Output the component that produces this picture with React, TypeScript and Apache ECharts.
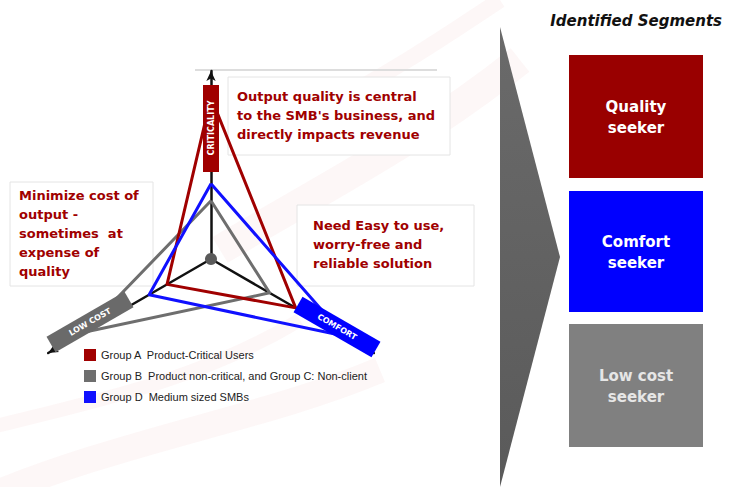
import React, { useEffect, useRef } from "react";
import * as echarts from "echarts";

const indicators = ["CRITICALITY", "LOW COST", "COMFORT"];
const groupNames = [
  "Group A  Product-Critical Users",
  "Group B  Product non-critical, and Group C: Non-client",
  "Group D  Medium sized SMBs",
];
const groupColors = ["#a00000", "#6e6e6e", "#1010ff"];
const groupA = [0.86, 0.27, 0.52];
const groupBC = [0.31, 0.78, 0.36];
const groupD = [0.4, 0.38, 0.82];
const segmentTitle = "Identified Segments";
const segments = ["Quality\nseeker", "Comfort\nseeker", "Low cost\nseeker"];
const segmentColors = ["#990000", "#0000ff", "#808080"];
const notes = [
  "Output quality is central\nto the SMB's business, and\ndirectly impacts revenue",
  "Minimize cost of\noutput -\nsometimes  at\nexpense of\nquality",
  "Need Easy to use,\nworry-free and\nreliable solution",
];

export default function App() {
  const ref = useRef<HTMLDivElement>(null);
  useEffect(() => {
    document.body.style.margin = "0";
    const chart = echarts.init(ref.current!, null, { renderer: "svg" });
    const noteFont = "bold 13px 'DejaVu Sans'";
    const swoosh = (x1: number, y1: number, cx1: number, cy1: number, cx2: number, cy2: number, x2: number, y2: number, w: number) => ({
      type: "bezierCurve", z: -10,
      shape: { x1, y1, cpx1: cx1, cpy1: cy1, cpx2: cx2, cpy2: cy2, x2, y2 },
      style: { stroke: "rgba(215,60,60,0.04)", lineWidth: w, fill: null },
    });
    const graphic: any[] = [
      // faint background swooshes
      swoosh(-20, 500, 120, 440, 260, 420, 380, 370, 26),
      swoosh(-20, 430, 100, 400, 200, 380, 300, 320, 14),
      swoosh(220, 250, 320, 190, 420, 140, 520, 60, 30),
      swoosh(300, 120, 380, 80, 440, 40, 500, 0, 16),
      // top rule
      { type: "line", z: 0, shape: { x1: 195, y1: 70, x2: 437, y2: 70 }, style: { stroke: "#dddddd", lineWidth: 2 } },
      // note boxes
      { type: "rect", z: 0, shape: { x: 228, y: 77, width: 222, height: 78 }, style: { fill: "#fff", stroke: "#e4e4e4", lineWidth: 1 } },
      { type: "text", z: 1, style: { x: 237, y: 87, text: notes[0], font: noteFont, fill: "#a00000", lineHeight: 19, textVerticalAlign: "top" } },
      { type: "rect", z: 0, shape: { x: 10, y: 182, width: 143, height: 104 }, style: { fill: "#fff", stroke: "#e4e4e4", lineWidth: 1 } },
      { type: "text", z: 1, style: { x: 19, y: 186, text: notes[1], font: noteFont, fill: "#a00000", lineHeight: 19, textVerticalAlign: "top" } },
      { type: "rect", z: 0, shape: { x: 297, y: 205, width: 177, height: 81 }, style: { fill: "#fff", stroke: "#e4e4e4", lineWidth: 1 } },
      { type: "text", z: 1, style: { x: 313, y: 216, text: notes[2], font: noteFont, fill: "#a00000", lineHeight: 19, textVerticalAlign: "top" } },
      // axis labels
      { type: "rect", z: 10, shape: { x: 203, y: 85, width: 16, height: 87 }, style: { fill: "#a00000" } },
      { type: "text", z: 11, x: 211, y: 128, rotation: Math.PI / 2, style: { x: 0, y: 0, text: indicators[0], font: "bold 8px 'DejaVu Sans'", fill: "#fff", textAlign: "center", textVerticalAlign: "middle" } },
      {
        type: "group", z: 10, x: 90, y: 322, rotation: Math.PI / 6,
        children: [
          { type: "rect", z: 10, shape: { x: -45, y: -9, width: 90, height: 18 }, style: { fill: "#6a6a6a" } },
          { type: "text", z: 11, style: { x: 0, y: 0, text: indicators[1], font: "bold 8px 'DejaVu Sans'", fill: "#fff", textAlign: "center", textVerticalAlign: "middle" } },
        ],
      },
      {
        type: "group", z: 10, x: 337, y: 327, rotation: -Math.PI / 6,
        children: [
          { type: "rect", z: 10, shape: { x: -45, y: -9, width: 90, height: 18 }, style: { fill: "#0000ff" } },
          { type: "text", z: 11, style: { x: 0, y: 0, text: indicators[2], font: "bold 8px 'DejaVu Sans'", fill: "#fff", textAlign: "center", textVerticalAlign: "middle" } },
        ],
      },
      // center hub
      { type: "circle", z: 12, shape: { cx: 211, cy: 259, r: 6 }, style: { fill: "#5a5a5a" } },
      // right arrow
      {
        type: "polygon", z: 0, shape: { points: [[500, 27], [560, 257], [500, 487]] },
        style: { fill: new echarts.graphic.LinearGradient(0, 0, 0, 1, [{ offset: 0, color: "#6a6a6a" }, { offset: 1, color: "#5a5a5a" }]) },
      },
      { type: "text", z: 1, style: { x: 722, y: 21, text: segmentTitle, font: "italic bold 15px 'DejaVu Sans'", fill: "#111", textAlign: "right", textVerticalAlign: "middle" } },
    ];
    const boxY = [55, 191, 324];
    const boxH = [123, 121, 123];
    segments.forEach((s, i) => {
      graphic.push({ type: "rect", z: 1, shape: { x: 569, y: boxY[i], width: 134, height: boxH[i] }, style: { fill: segmentColors[i] } });
      graphic.push({
        type: "text", z: 2,
        style: { x: 636, y: boxY[i] + boxH[i] / 2 + 1, text: s, font: "bold 15px 'DejaVu Sans'", fill: i === 2 ? "#e6e6e6" : "#ffffff", lineHeight: 21, textAlign: "center", textVerticalAlign: "middle" },
      });
    });

    chart.setOption({
      animation: false,
      backgroundColor: "#ffffff",
      legend: {
        data: groupNames,
        orient: "vertical",
        left: 79,
        top: 344,
        itemWidth: 12,
        itemHeight: 12,
        itemGap: 9,
        icon: "rect",
        selectedMode: false,
        textStyle: { fontSize: 11, color: "#222", fontFamily: "'Liberation Sans', Arial" },
      },
      radar: {
        center: [211, 259],
        radius: 188,
        startAngle: 90,
        splitNumber: 1,
        indicator: indicators.map((n) => ({ name: n, min: 0, max: 1 })),
        axisName: { show: false },
        splitLine: { show: false },
        splitArea: { show: false },
        axisTick: { show: false },
        axisLabel: { show: false },
        axisLine: { show: true, symbol: ["none", "arrow"], symbolSize: [7, 10], lineStyle: { color: "#111", width: 2.5 } },
      },
      graphic,
      series: [
        {
          type: "radar",
          symbol: "none",
          data: [
            { name: groupNames[1], value: groupBC, lineStyle: { color: groupColors[1], width: 3 }, itemStyle: { color: groupColors[1] } },
            { name: groupNames[0], value: groupA, lineStyle: { color: groupColors[0], width: 3 }, itemStyle: { color: groupColors[0] } },
            { name: groupNames[2], value: groupD, lineStyle: { color: groupColors[2], width: 3 }, itemStyle: { color: groupColors[2] } },
          ],
        },
      ],
    });
    return () => chart.dispose();
  }, []);
  return <div ref={ref} style={{ width: 734, height: 487 }} />;
}
